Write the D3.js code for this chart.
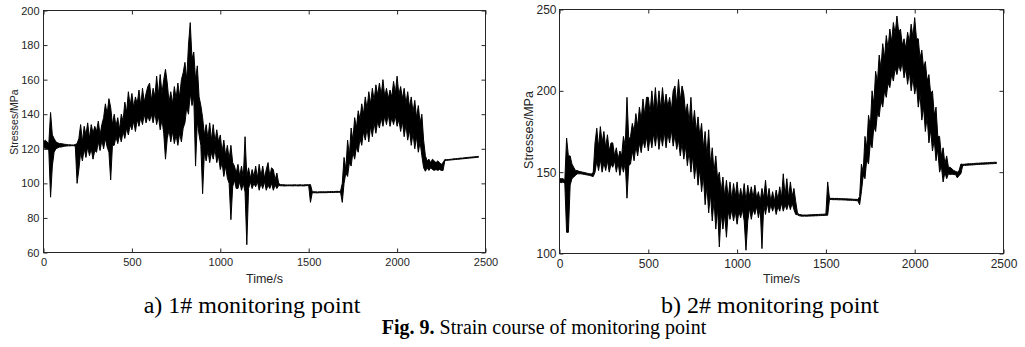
<!DOCTYPE html>
<html>
<head>
<meta charset="utf-8">
<script src="https://cdn.jsdelivr.net/npm/d3@7"></script>
<style>
  body { margin: 0; background: #fff; }
  svg { display: block; }
</style>
</head>
<body>
<svg id="fig" width="1025" height="347"></svg>
<script>
const timeStep = 10
const timeTicks = [0, 500, 1000, 1500, 2000, 2500]
const stressTicks1 = [60, 80, 100, 120, 140, 160, 180, 200]
const stressTicks2 = [100, 150, 200, 250]

// 1# monitoring point, MPa
const stress1Max = [
    124, 125, 124, 123, 141, 128, 126, 124, 123.5, 123,
    123, 122.8, 122.6, 122.5, 122.3, 122.3, 122.2, 122.2, 122.5, 123,
    126, 134, 124, 133, 128, 135, 126, 134, 129, 133,
    130, 136, 128, 134, 138, 146, 140, 149, 144, 134,
    140, 133, 138, 131, 140, 136, 147, 141, 153, 145,
    152, 144, 150, 146, 154, 145, 155, 147, 152, 156,
    158, 148, 155, 150, 162, 151, 163, 152, 160, 166,
    158, 147, 153, 146, 156, 149, 158, 150, 160, 164,
    170, 160, 180, 193, 172, 176, 160, 168, 150, 145,
    138, 128, 134, 126, 135, 125, 134, 124, 131, 124,
    128, 118, 125, 116, 122, 114, 122, 112, 110, 106,
    111, 104, 110, 103, 127, 104, 109, 103, 108, 104,
    110, 103, 111, 104, 110, 103, 108, 112, 104, 109,
    108, 102, 106, 100, 99.3, 99.2, 99.2, 99.1, 99.1, 99.1,
    99.1, 99.1, 99.2, 99.1, 99.1, 99.2, 99.1, 99.1, 99.2, 99.2,
    99.2, 99.3, 95.2, 95.1, 95.1, 95, 95.1, 95.1, 95.1, 95.1,
    95.1, 95.2, 95.2, 95.3, 95.2, 95.3, 95.4, 95.3, 95.4, 100,
    115, 108, 125, 116, 132, 125, 138, 132, 142, 137,
    146, 140, 150, 143, 153, 146, 155, 148, 157, 151,
    158, 151, 160, 150, 155, 149, 154, 150, 159, 152,
    162, 151, 156, 149, 155, 146, 153, 144, 150, 141,
    148, 138, 145, 135, 140, 125, 116, 113, 114, 112,
    114, 113, 112, 113, 112, 111, 112, 113.8, 113.7, 113.8,
    113.9, 114, 114.2, 114.3, 114.3, 114.5, 114.6, 114.6, 114.8, 114.9,
    115, 115.1, 115.2, 115.3, 115.4, 115.5, 115.6
]
const stress1Min = [
    121, 120, 120, 119, 92, 110, 118, 120, 120.5, 121,
    121, 121.3, 121.5, 121.6, 121.7, 121.7, 121.8, 121.8, 121.5, 100,
    108, 118, 113, 120, 115, 121, 116, 120, 114, 119,
    118, 124, 119, 125, 120, 126, 121, 118, 102, 122,
    122, 127, 123, 128, 124, 130, 126, 132, 128, 134,
    131, 136, 130, 137, 133, 138, 134, 140, 135, 139,
    136, 140, 135, 141, 134, 139, 131, 137, 129, 114,
    126, 131, 124, 130, 123, 128, 122, 129, 124, 132,
    135, 144, 140, 152, 145, 150, 110, 136, 128, 122,
    94, 118, 113, 119, 112, 118, 114, 120, 112, 116,
    108, 112, 104, 110, 103, 100, 79, 98, 102, 97,
    97, 101, 96, 100, 95, 64.5, 97, 101, 97, 100,
    98, 101, 96, 100, 97, 101, 96, 99, 97, 100,
    96, 99, 97, 98.8, 98.6, 98.6, 98.5, 98.5, 98.6, 98.6,
    98.6, 98.5, 98.6, 98.6, 98.5, 98.6, 98.6, 98.5, 98.6, 98.7,
    98.7, 89, 94.6, 94.6, 94.5, 94.5, 94.6, 94.6, 94.6, 94.6,
    94.6, 94.7, 94.7, 94.7, 94.7, 94.8, 94.8, 94.8, 94.9, 89,
    100, 106, 104, 112, 110, 118, 114, 121, 118, 126,
    122, 130, 125, 132, 124, 133, 127, 135, 129, 136,
    132, 138, 133, 139, 134, 140, 133, 138, 134, 139,
    133, 137, 130, 136, 127, 134, 125, 131, 122, 129,
    120, 127, 118, 124, 116, 109, 107, 109, 107.5, 109,
    108, 107.5, 108, 107.5, 108, 107.5, 107.5, 113.2, 113.3, 113.4,
    113.5, 113.6, 113.7, 113.8, 113.9, 114, 114.1, 114.2, 114.3, 114.4,
    114.5, 114.6, 114.7, 114.8, 114.9, 115, 115.1
]

// 2# monitoring point, MPa
const stress2Max = [
    146, 146, 146, 145, 171, 160, 160, 155, 153, 151,
    151, 150.5, 150.3, 150, 149.8, 149.5, 149.2, 149, 148.8, 150,
    168, 177, 165, 178, 168, 175, 165, 173, 163, 168,
    168, 160, 165, 158, 163, 160, 172, 166, 196, 170,
    172, 180, 175, 186, 178, 190, 182, 195, 185, 196,
    196, 186, 200, 188, 202, 187, 200, 189, 202, 190,
    198, 190, 196, 188, 200, 203, 192, 207, 194, 203,
    198, 186, 192, 180, 196, 178, 188, 175, 184, 172,
    180, 165, 175, 160, 176, 155, 165, 150, 160, 146,
    150, 138, 147, 135, 145, 134, 144, 133, 143, 135,
    144, 133, 140, 134, 143, 132, 142, 135, 141, 134,
    142, 134, 138, 132, 140, 134, 145, 133, 140, 132,
    138, 132, 139, 133, 141, 134, 149, 135, 146, 134,
    144, 135, 140, 132, 124.8, 124, 123.8, 123.6, 123.7, 123.6,
    123.7, 123.8, 123.8, 123.9, 123.9, 124, 124, 124.1, 124.1, 124.2,
    124.3, 144, 134, 133.9, 133.9, 133.8, 133.9, 133.8, 133.8, 133.7,
    133.7, 133.6, 133.6, 133.5, 133.5, 133.4, 133.3, 133.3, 133.2, 135,
    155, 150, 172, 165, 185, 178, 200, 192, 212, 205,
    222, 214, 229, 220, 234, 226, 238, 230, 242, 235,
    246, 236, 238, 228, 232, 226, 236, 230, 241, 233,
    245, 232, 232, 220, 225, 214, 218, 206, 210, 198,
    200, 185, 190, 172, 172, 160, 165, 155, 160, 153,
    153, 152, 151, 150.5, 150, 151, 155, 154.8, 154.9, 155,
    155.1, 155.2, 155.2, 155.3, 155.4, 155.5, 155.5, 155.6, 155.7, 155.7,
    155.8, 155.8, 155.9, 156, 156, 156.1, 156.1
]
const stress2Min = [
    144, 143.5, 144, 143, 113, 113, 142, 146, 147, 148,
    149, 149, 149, 148.8, 148.6, 148.4, 148.2, 148, 147.6, 147.3,
    150, 157, 151, 158, 150, 156, 151, 157, 150, 155,
    153, 157, 150, 156, 148, 155, 150, 156, 134, 154,
    155, 163, 157, 166, 160, 168, 162, 170, 165, 172,
    163, 172, 165, 174, 166, 175, 164, 173, 166, 175,
    165, 174, 168, 176, 166, 173, 164, 170, 160, 168,
    158, 166, 154, 163, 150, 160, 146, 156, 142, 152,
    138, 148, 130, 142, 125, 137, 120, 133, 115, 128,
    104, 125, 115, 124, 110, 126, 121, 127, 120, 126,
    118, 126, 122, 127, 120, 102, 120, 128, 121, 127,
    124, 129, 122, 128, 103, 130, 124, 131, 125, 130,
    126, 130, 124, 129, 126, 131, 126, 130, 127, 131,
    127, 131, 127, 124, 123.8, 123.2, 123, 122.9, 123, 122.9,
    123, 123, 123.1, 123.1, 123.2, 123.2, 123.3, 123.3, 123.4, 123.4,
    123.5, 123.5, 133.2, 133.2, 133.1, 133.1, 133.1, 133, 133, 133,
    132.9, 132.9, 132.8, 132.8, 132.7, 132.7, 132.6, 132.5, 132.4, 130,
    138, 148, 146, 158, 155, 168, 165, 178, 175, 186,
    184, 194, 190, 200, 196, 205, 202, 210, 206, 214,
    210, 216, 212, 218, 208, 214, 204, 212, 200, 208,
    198, 204, 190, 198, 182, 190, 175, 184, 168, 176,
    163, 170, 157, 164, 150, 154, 144, 150, 146, 149,
    148.5, 148.8, 148.5, 148.5, 146.5, 148, 149, 154, 154.1, 154.2,
    154.3, 154.4, 154.4, 154.5, 154.6, 154.7, 154.7, 154.8, 154.9, 154.9,
    155, 155, 155.1, 155.2, 155.2, 155.3, 155.3
]

const subCaptions = ['a) 1# monitoring point', 'b) 2# monitoring point']
const figNumber = 'Fig. 9.'
const figTitle = ' Strain course of monitoring point'

const svg = d3.select('#fig')
svg.append('rect').attr('width', 1025).attr('height', 347).attr('fill', '#fff')

const axisColor = '#262626'
const sansFont = "'Liberation Sans', Arial, sans-serif"
const serifFont = "'Liberation Serif', 'Times New Roman', serif"

function drawPanel(p) {
    let x = d3.scaleLinear().domain([0, 2500]).range([p.left, p.right])
    let y = d3.scaleLinear().domain(p.yDomain).range([p.bottom, p.top])
    let g = svg.append('g')

    let bins = p.maxValues.map((hi, i) => ({ t: i * timeStep, hi: hi, lo: p.minValues[i] }))
    let band = d3.area()
        .x(d => x(d.t))
        .y0(d => y(d.lo))
        .y1(d => y(d.hi))

    g.append('path')
        .datum(bins)
        .attr('d', band)
        .attr('fill', '#000')
        .attr('stroke', '#000')
        .attr('stroke-width', 1)
        .attr('stroke-linejoin', 'round')

    let styleAxis = function(a) {
        a.select('.domain').remove()
        a.selectAll('line').attr('stroke', axisColor)
        a.selectAll('text')
            .attr('fill', axisColor)
            .attr('font-family', sansFont)
            .attr('font-size', p.tickFont + 'px')
    }

    g.append('g')
        .attr('transform', `translate(0,${p.bottom})`)
        .call(d3.axisBottom(x).tickValues(timeTicks).tickFormat(d3.format('d'))
            .tickSize(-4).tickSizeOuter(0).tickPadding(p.xPad))
        .call(styleAxis)
    g.append('g')
        .attr('transform', `translate(0,${p.top})`)
        .call(d3.axisTop(x).tickValues(timeTicks).tickSize(-4).tickSizeOuter(0).tickFormat(''))
        .call(styleAxis)
    g.append('g')
        .attr('transform', `translate(${p.left},0)`)
        .call(d3.axisLeft(y).tickValues(p.yTicks).tickFormat(d3.format('d'))
            .tickSize(-4).tickSizeOuter(0).tickPadding(p.yPad))
        .call(styleAxis)
    g.append('g')
        .attr('transform', `translate(${p.right},0)`)
        .call(d3.axisRight(y).tickValues(p.yTicks).tickSize(-4).tickSizeOuter(0).tickFormat(''))
        .call(styleAxis)

    g.append('rect')
        .attr('x', p.left)
        .attr('y', p.top)
        .attr('width', p.right - p.left)
        .attr('height', p.bottom - p.top)
        .attr('fill', 'none')
        .attr('stroke', axisColor)
        .attr('stroke-width', 1)

    g.append('text')
        .attr('x', (p.left + p.right) / 2)
        .attr('y', p.xLabelY)
        .attr('text-anchor', 'middle')
        .attr('font-family', sansFont)
        .attr('font-size', p.xLabelFont + 'px')
        .attr('fill', axisColor)
        .text('Time/s')

    g.append('text')
        .attr('transform', `translate(${p.yLabelX},${p.yLabelY}) rotate(-90)`)
        .attr('text-anchor', 'middle')
        .attr('font-family', sansFont)
        .attr('font-size', p.yLabelFont + 'px')
        .attr('fill', axisColor)
        .text('Stresses/MPa')

    svg.append('text')
        .attr('x', p.captionX)
        .attr('y', 313)
        .attr('text-anchor', 'middle')
        .attr('font-family', serifFont)
        .attr('font-size', '24px')
        .attr('fill', '#000')
        .text(p.caption)
}

drawPanel({
    maxValues: stress1Max, minValues: stress1Min, yDomain: [60, 200], yTicks: stressTicks1,
    left: 43.5, right: 485.5, top: 10.5, bottom: 252.5,
    tickFont: 11, xPad: 6, yPad: 4,
    xLabelY: 283, xLabelFont: 12.5,
    yLabelX: 18, yLabelY: 122, yLabelFont: 10.5,
    caption: subCaptions[0], captionX: 252
})

drawPanel({
    maxValues: stress2Max, minValues: stress2Min, yDomain: [100, 250], yTicks: stressTicks2,
    left: 559.5, right: 1003.5, top: 9.5, bottom: 253.5,
    tickFont: 12, xPad: 6, yPad: 3,
    xLabelY: 283, xLabelFont: 12.5,
    yLabelX: 533, yLabelY: 130, yLabelFont: 12.5,
    caption: subCaptions[1], captionX: 770
})

let fig = svg.append('text')
    .attr('x', 544)
    .attr('y', 334)
    .attr('text-anchor', 'middle')
    .attr('font-family', serifFont)
    .attr('font-size', '20px')
    .attr('fill', '#000')
fig.append('tspan').attr('font-weight', 'bold').text(figNumber)
fig.append('tspan').text(figTitle)
</script>
</body>
</html>
